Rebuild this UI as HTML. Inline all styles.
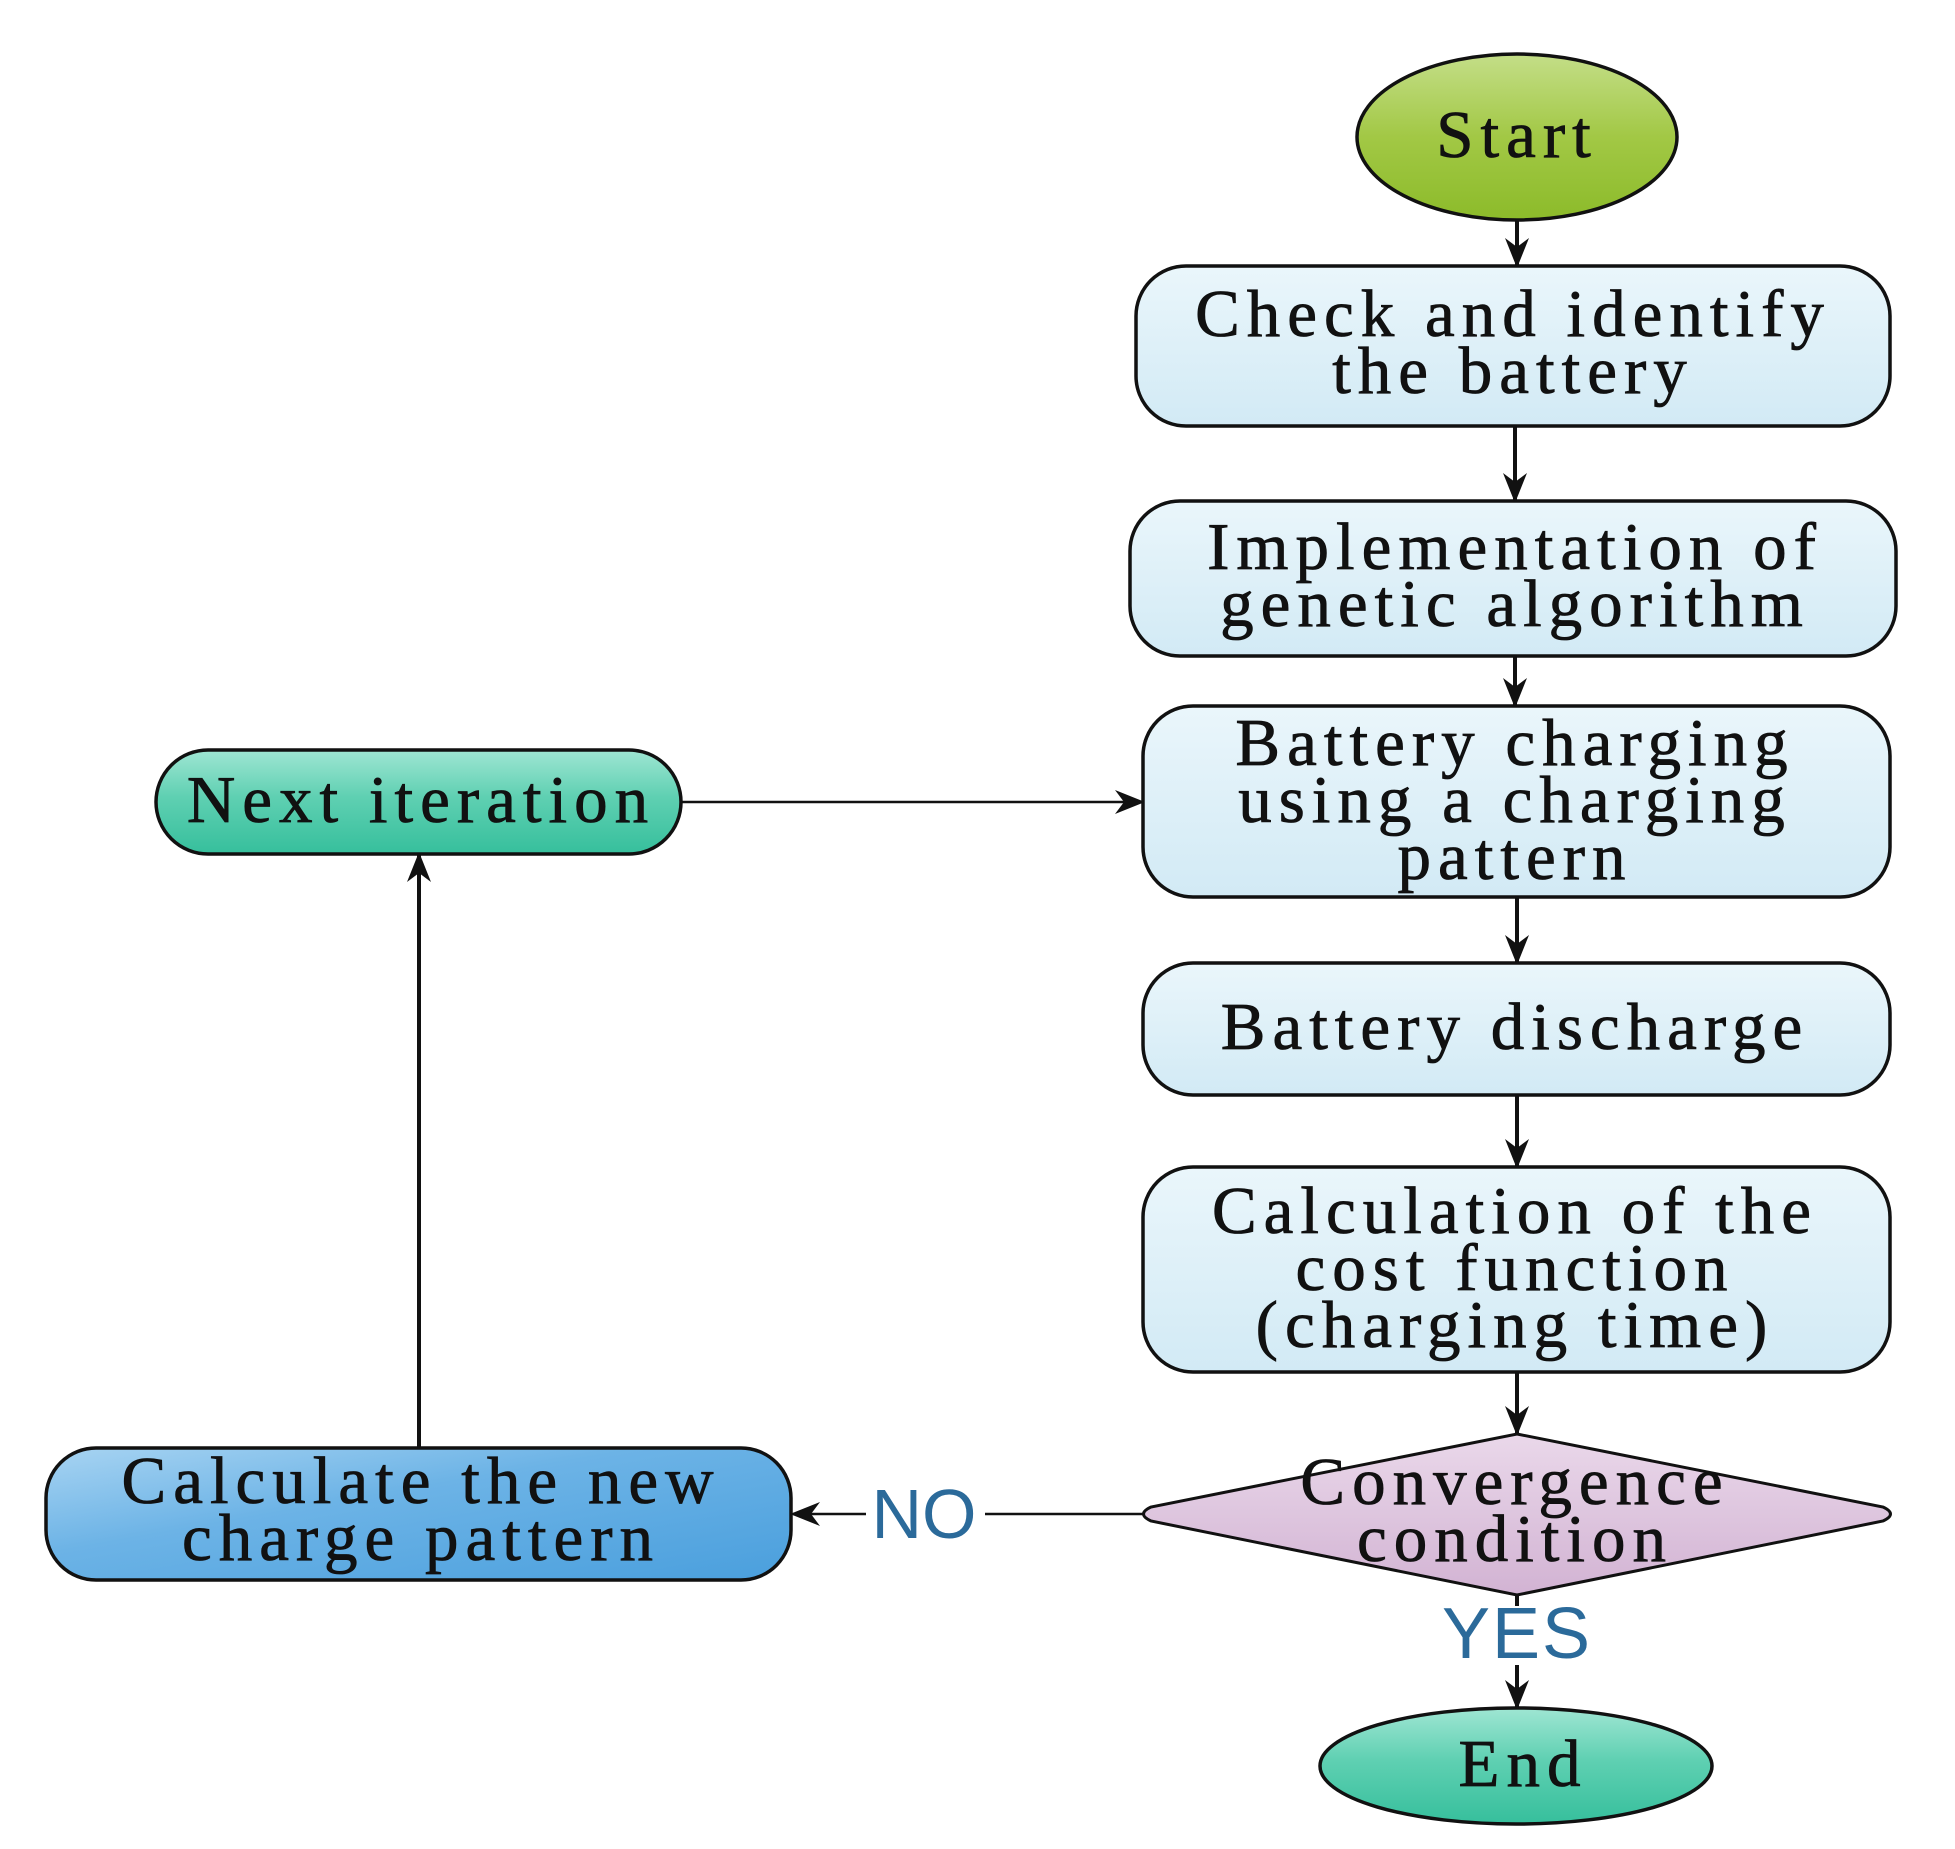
<!DOCTYPE html>
<html><head><meta charset="utf-8"><style>
html,body{margin:0;padding:0;background:#fff}
svg{display:block}
text{font-family:"Liberation Serif",serif;fill:#111}
</style></head><body>
<svg width="1955" height="1849" viewBox="0 0 1955 1849" xmlns="http://www.w3.org/2000/svg">
<defs>
<linearGradient id="gb" x1="0" y1="0" x2="0" y2="1"><stop offset="0" stop-color="#eaf6fb"/><stop offset="1" stop-color="#d2eaf5"/></linearGradient>
<linearGradient id="gg" x1="0" y1="0" x2="0" y2="1"><stop offset="0" stop-color="#c4de88"/><stop offset="0.5" stop-color="#a2c845"/><stop offset="1" stop-color="#8cbb2a"/></linearGradient>
<linearGradient id="gt" x1="0" y1="0" x2="0" y2="1"><stop offset="0" stop-color="#9fe6d3"/><stop offset="0.45" stop-color="#5fd0b2"/><stop offset="1" stop-color="#36bf9c"/></linearGradient>
<linearGradient id="gl" x1="0" y1="0" x2="1" y2="1"><stop offset="0" stop-color="#a8d4f2"/><stop offset="0.4" stop-color="#6cb3e6"/><stop offset="1" stop-color="#4a9fdd"/></linearGradient>
<linearGradient id="gp" x1="0" y1="0" x2="0" y2="1"><stop offset="0" stop-color="#ead8ea"/><stop offset="1" stop-color="#d2b3d3"/></linearGradient>
<marker id="ar2" viewBox="0 0 10 10" refX="9" refY="5" markerWidth="30" markerHeight="30" orient="auto" markerUnits="userSpaceOnUse"><path d="M0,1 L10,5 L0,9 L3,5 z" fill="#111"/></marker>
</defs>
<g transform="translate(-7,-3)">
<g stroke="#111" stroke-width="4" fill="none">
<line x1="1524" y1="223" x2="1524" y2="268" marker-end="url(#ar2)"/>
<line x1="1522" y1="429" x2="1522" y2="503" marker-end="url(#ar2)"/>
<line x1="1522" y1="659" x2="1522" y2="708" marker-end="url(#ar2)"/>
<line x1="1524" y1="900" x2="1524" y2="965" marker-end="url(#ar2)"/>
<line x1="1524" y1="1098" x2="1524" y2="1169" marker-end="url(#ar2)"/>
<line x1="1524" y1="1375" x2="1524" y2="1436" marker-end="url(#ar2)"/>
<line x1="1524" y1="1598" x2="1524" y2="1609"/>
<line x1="1524" y1="1668" x2="1524" y2="1710" marker-end="url(#ar2)"/>
<line x1="426" y1="1451" x2="426" y2="858" marker-end="url(#ar2)"/>
</g>
<g stroke="#111" stroke-width="2.5" fill="none">
<line x1="688" y1="805" x2="1149" y2="805" marker-end="url(#ar2)"/>
<line x1="1150" y1="1517" x2="992" y2="1517"/>
<line x1="873" y1="1517" x2="800" y2="1517" marker-end="url(#ar2)"/>
</g>
<ellipse cx="1524" cy="140" rx="160" ry="83" fill="url(#gg)" stroke="#111" stroke-width="3.5"/>
<rect x="1143" y="269" width="754" height="160" rx="50" fill="url(#gb)" stroke="#111" stroke-width="3.5"/>
<rect x="1137" y="504" width="766" height="155" rx="50" fill="url(#gb)" stroke="#111" stroke-width="3.5"/>
<rect x="1150" y="709" width="747" height="191" rx="50" fill="url(#gb)" stroke="#111" stroke-width="3.5"/>
<rect x="1150" y="966" width="747" height="132" rx="50" fill="url(#gb)" stroke="#111" stroke-width="3.5"/>
<rect x="1150" y="1170" width="747" height="205" rx="50" fill="url(#gb)" stroke="#111" stroke-width="3.5"/>
<path d="M1524,1437 L1890,1510 Q1905,1517 1890,1524 L1524,1598 L1158,1524 Q1143,1517 1158,1510 Z" fill="url(#gp)" stroke="#111" stroke-width="3"/>
<ellipse cx="1523" cy="1769" rx="196" ry="58" fill="url(#gt)" stroke="#111" stroke-width="3.5"/>
<rect x="163" y="753" width="525" height="104" rx="52" fill="url(#gt)" stroke="#111" stroke-width="3.5"/>
<rect x="53" y="1451" width="745" height="132" rx="50" fill="url(#gl)" stroke="#111" stroke-width="3.5"/>
<g font-size="67" text-anchor="middle" letter-spacing="7" stroke="#111" stroke-width="0.8">
<text x="1520" y="339">Check and identify</text>
<text x="1520" y="396">the battery</text>
<text x="1522" y="572">Implementation of</text>
<text x="1522" y="629">genetic algorithm</text>
<text x="1522" y="768">Battery charging</text>
<text x="1522" y="825">using a charging</text>
<text x="1522" y="882">pattern</text>
<text x="1522" y="1052">Battery discharge</text>
<text x="1522" y="1236">Calculation of the</text>
<text x="1522" y="1293">cost function</text>
<text x="1522" y="1350">(charging time)</text>
<text x="1522" y="1507">Convergence</text>
<text x="1522" y="1564">condition</text>
<text x="1530" y="1789">End</text>
<text x="1524" y="160">Start</text>
<text x="428" y="825">Next iteration</text>
<text x="428" y="1506">Calculate the new</text>
<text x="428" y="1563">charge pattern</text>
</g>
<text x="931" y="1541" text-anchor="middle" font-size="70" style="fill:#2b6a9a;font-family:'Liberation Sans',sans-serif">NO</text>
<text x="1524" y="1661" text-anchor="middle" font-size="72" letter-spacing="2" style="fill:#2b6a9a;font-family:'Liberation Sans',sans-serif">YES</text>
</g>
</svg>
</body></html>
